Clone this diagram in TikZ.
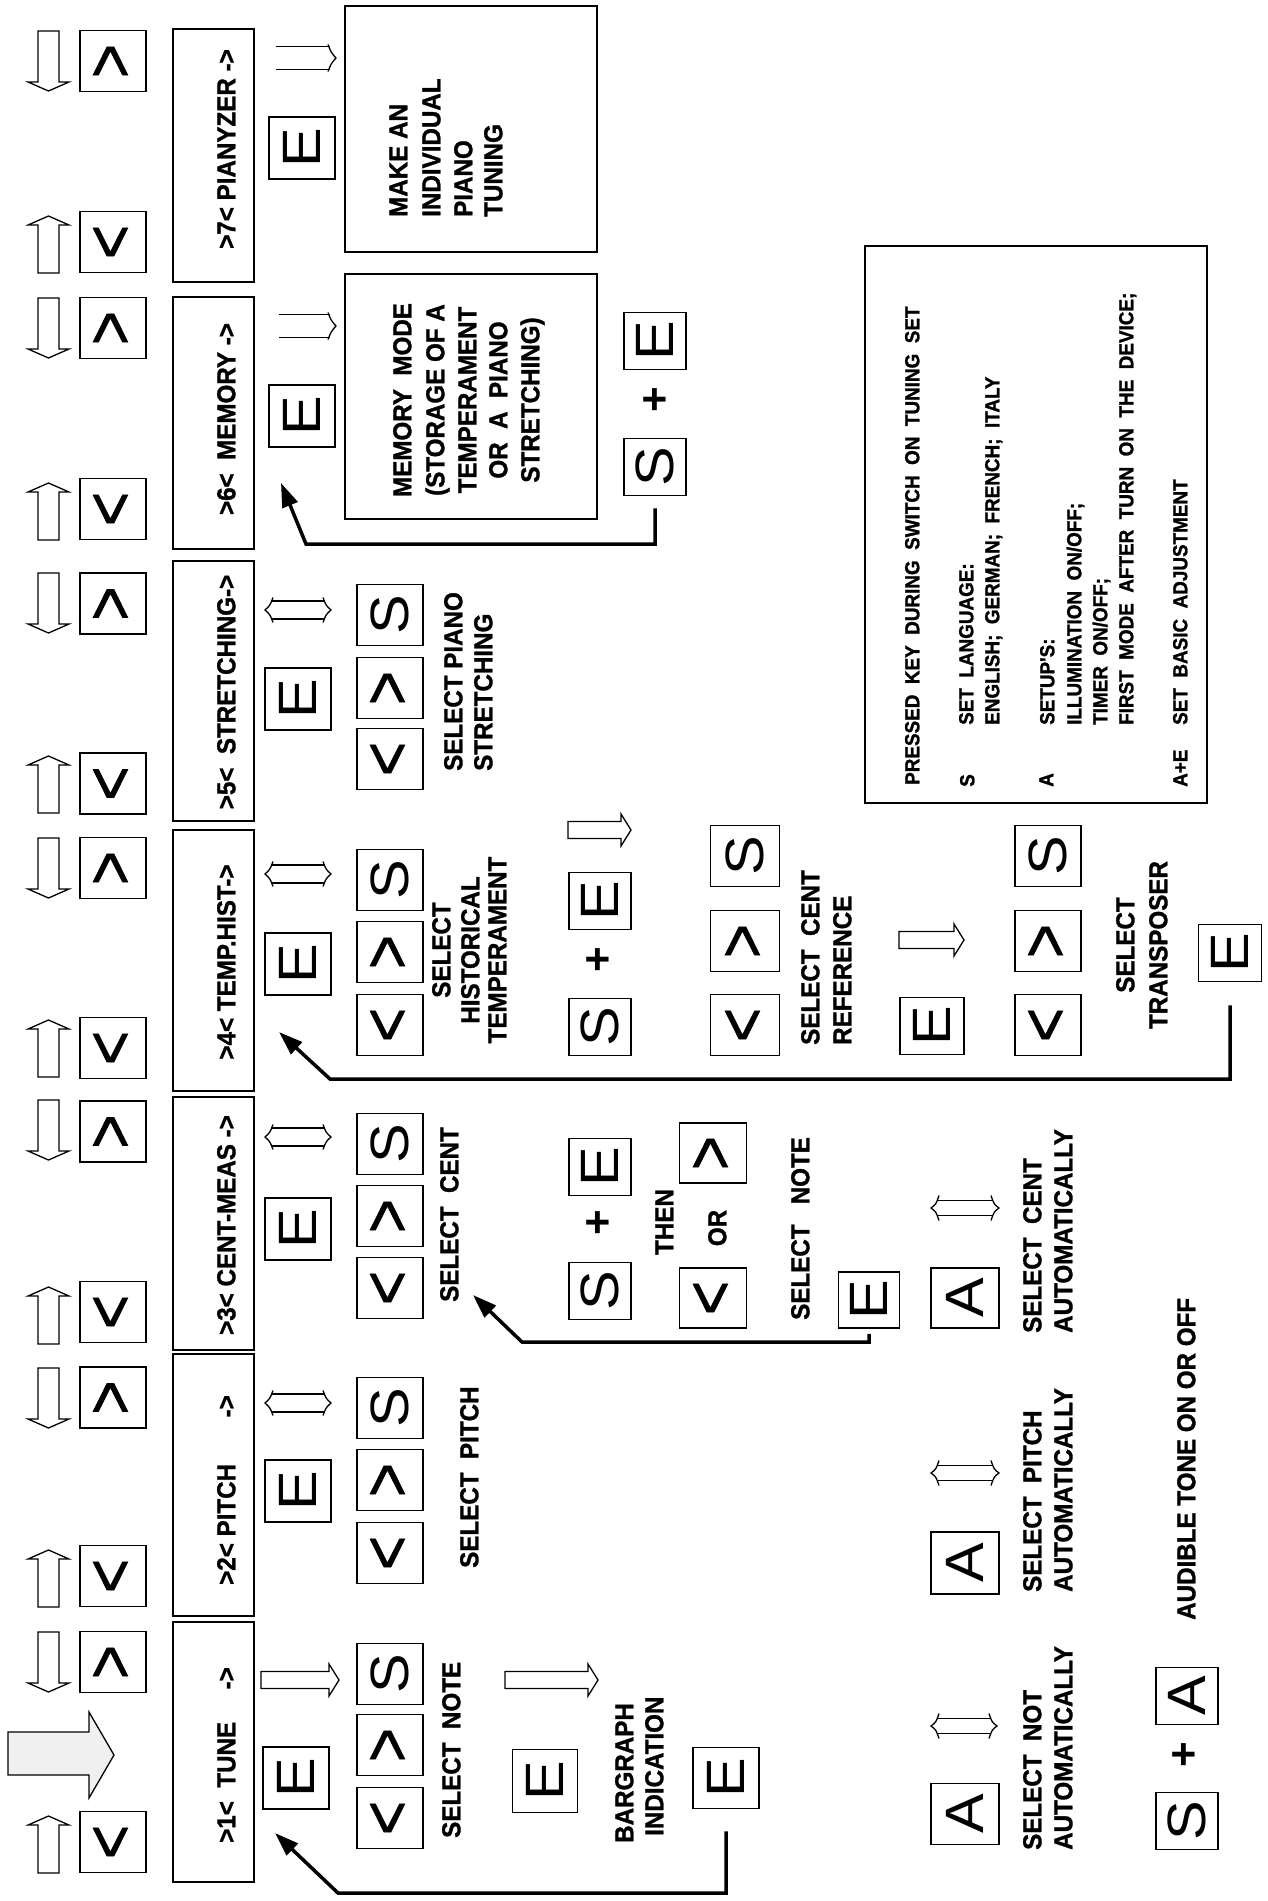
\documentclass[tikz,border=0pt]{standalone}
\usepackage{fontspec}
\usepackage{graphicx}
\setmainfont{Liberation Sans}
\newfontfamily\lblfam[FakeStretch=0.93,FakeBold=1.2]{Liberation Sans}
\newfontfamily\keyfam[FakeStretch=1.1]{Liberation Sans}
\newfontfamily\chevfam[FakeStretch=0.85,FakeBold=1.2]{Liberation Sans}
\usetikzlibrary{arrows.meta,calc}
\newcommand{\kg}[1]{\rotatebox{90}{#1}}
\newcommand{\kl}[1]{\rotatebox{90}{\chevfam\fontsize{68}{68}\selectfont\raisebox{-2pt}{#1}}}
\newcommand{\hdn}[1]{\draw[hollow] (38,#1) -- (59,#1) -- (59,#1+51) -- (69,#1+51) -- (48.5,#1+60) -- (28,#1+51) -- (38,#1+51) -- cycle;}
\newcommand{\hup}[1]{\draw[hollow] (38,#1+57) -- (59,#1+57) -- (59,#1+9) -- (69,#1+9) -- (48.5,#1) -- (28,#1+9) -- (38,#1+9) -- cycle;}
\newcommand{\blkR}[3]{\draw[hollow] (#1,#3-8.5) -- (#2-10,#3-8.5) -- (#2-10,#3-16) -- (#2,#3) -- (#2-10,#3+16) -- (#2-10,#3+8.5) -- (#1,#3+8.5) -- cycle;}
\newcommand{\dblLR}[5]{%
 \draw[dbl] (#1+6,#3-#4) -- (#2-6,#3-#4) (#1+6,#3+#4) -- (#2-6,#3+#4);
 \draw[dbl] (#2-8,#3-#5) .. controls (#2-5,#3-#4*0.5) .. (#2,#3) .. controls (#2-5,#3+#4*0.5) .. (#2-8,#3+#5);
 \draw[dbl] (#1+8,#3-#5) .. controls (#1+5,#3-#4*0.5) .. (#1,#3) .. controls (#1+5,#3+#4*0.5) .. (#1+8,#3+#5);}
\newcommand{\dblR}[5]{%
 \draw[dbl] (#1,#3-#4) -- (#2-6,#3-#4) (#1,#3+#4) -- (#2-6,#3+#4);
 \draw[dbl] (#2-8,#3-#5) .. controls (#2-5,#3-#4*0.5) .. (#2,#3) .. controls (#2-5,#3+#4*0.5) .. (#2-8,#3+#5);}
\tikzset{
 keybox/.style={draw, line width=1.8pt, minimum width=66pt, minimum height=61pt, inner sep=0pt, font=\keyfam\fontsize{54}{54}\selectfont},
 smallkey/.style={keybox, minimum width=62pt, minimum height=57pt},
 plus/.style={inner sep=0pt, font=\bfseries\fontsize{44}{44}\selectfont},
 modebox/.style={draw, line width=1.8pt, minimum width=81pt, inner sep=0pt},
 bigbox/.style={draw, line width=1.8pt, inner sep=0pt},
 lbl/.style={rotate=90, inner sep=0pt, font=\lblfam\bfseries\fontsize{26}{28}\selectfont, text height=18.6pt, text depth=0pt},
 lgd/.style={rotate=90, inner sep=0pt, font=\lblfam\bfseries\fontsize{20.3}{22}\selectfont, text height=14.5pt, text depth=0pt},
 hollow/.style={draw, line width=1.3pt, fill=white, line join=miter},
 dbl/.style={line width=1.3pt},
 conn/.style={line width=3.5pt, -{Triangle[length=24pt,width=16pt]}},
}
\begin{document}
\begin{tikzpicture}[x=1pt,y=-1pt]
\useasboundingbox (0,0) rectangle (1268,1901);
\fill[white] (0,0) rectangle (1268,1901);

% ---- left column: hollow arrows and up/down keys
\foreach \t in {31,298,573,838,1100,1368,1632}{\hdn{\t}}
\foreach \t in {216,483,756,1020,1287,1550,1816}{\hup{\t}}
\foreach \c/\n in {61/1,328/2,603.5/3,868/4,1131.5/5,1397.5/6,1662/7}{\node[keybox] (kup\n) at (113,\c) {\kl{>}};}
\foreach \c/\n in {242/1,509/2,783.5/3,1048/4,1312/5,1576/6,1842/7}{\node[keybox] (kdn\n) at (113,\c) {\kl{<}};}

% big grey arrow
\draw[line width=1.3pt, fill=gray!12] (8,1732) -- (89,1732) -- (89,1712) -- (114,1755) -- (89,1798) -- (89,1775) -- (8,1775) -- cycle;

% ---- mode boxes
\node[modebox, minimum height=253pt] (m7) at (213.5,155.5) {};
\node[modebox, minimum height=252pt] (m6) at (213.5,423) {};
\node[modebox, minimum height=260pt] (m5) at (213.5,691) {};
\node[modebox, minimum height=261pt] (m4) at (213.5,960.5) {};
\node[modebox, minimum height=253pt] (m3) at (213.5,1223.5) {};
\node[modebox, minimum height=262pt] (m2) at (213.5,1485) {};
\node[modebox, minimum height=260pt] (m1) at (213.5,1752) {};
\node[lbl] (m7t) at (226,149) {>7< PIANYZER ->};
\node[lbl] (m6t) at (226,419) {>6<\ \ MEMORY ->};
\node[lbl] (m5t) at (226,692) {>5<\ \ STRETCHING->};
\node[lbl] (m4t) at (226,962) {>4< TEMP.HIST->};
\node[lbl] (m3t) at (226,1225) {>3< CENT-MEAS ->};
\node[lbl, anchor=west] (m2t) at (226,1585) {>2< PITCH};
\node[lbl, anchor=east] (m2a) at (226,1395) {->};
\node[lbl, anchor=west] (m1t) at (226,1843) {>1<\ \ TUNE};
\node[lbl, anchor=east] (m1a) at (226,1667) {->};

% ---- arrows next to mode boxes
\dblR{276}{336}{58}{11.5}{13.5}
\dblR{279}{336}{326}{11.5}{13.5}
\dblLR{265}{331}{610}{9}{12.5}
\dblLR{265}{331}{874}{9}{12.5}
\dblLR{265}{331}{1137}{9}{12.5}
\dblLR{265}{331}{1403}{9}{12.5}
\blkR{261}{339}{1680}

% ---- E keys next to the modes
\node[keybox, minimum height=62pt] (e7) at (302,148) {\kg{E}};
\node[keybox, minimum height=62pt] (e6) at (302,416) {\kg{E}};
\node[keybox, minimum height=62pt] (e5) at (298,699) {\kg{E}};
\node[keybox, minimum height=62pt] (e4) at (298,964) {\kg{E}};
\node[keybox, minimum height=62pt] (e3) at (298,1229) {\kg{E}};
\node[keybox, minimum height=62pt] (e2) at (298,1491) {\kg{E}};
\node[keybox, minimum height=62pt] (e1) at (296,1778) {\kg{E}};

% ---- < > S columns
\node[keybox] (s5) at (390,615) {\kg{S}};
\node[keybox] (r5) at (390,688) {\kl{>}};
\node[keybox] (l5) at (390,759) {\kl{<}};
\node[keybox] (s4) at (390,880) {\kg{S}};
\node[keybox] (r4) at (390,952) {\kl{>}};
\node[keybox] (l4) at (390,1025) {\kl{<}};
\node[keybox] (s3) at (390,1144) {\kg{S}};
\node[keybox] (r3) at (390,1216) {\kl{>}};
\node[keybox] (l3) at (390,1288) {\kl{<}};
\node[keybox] (s2) at (390,1408) {\kg{S}};
\node[keybox] (r2) at (390,1480) {\kl{>}};
\node[keybox] (l2) at (390,1553) {\kl{<}};
\node[keybox] (s1) at (390,1674) {\kg{S}};
\node[keybox] (r1) at (390,1745) {\kl{>}};
\node[keybox] (l1) at (390,1818) {\kl{<}};

% ---- big text boxes
\node[bigbox, minimum width=252pt, minimum height=246pt] (bx7) at (471,129) {};
\node[bigbox, minimum width=252pt, minimum height=245pt] (bx6) at (471,396.5) {};
\node[lbl, anchor=west] (mk1) at (398,217) {MAKE AN};
\node[lbl, anchor=west] (mk2) at (431,217) {INDIVIDUAL};
\node[lbl, anchor=west] (mk3) at (463,217) {PIANO};
\node[lbl, anchor=west] (mk4) at (493,217) {TUNING};
\node[lbl] (mm1) at (402,400) {MEMORY\ \ MODE};
\node[lbl] (mm2) at (435,400) {(STORAGE OF A};
\node[lbl] (mm3) at (467,400) {TEMPERAMENT};
\node[lbl] (mm4) at (498,400) {OR\ \ A\ \ PIANO};
\node[lbl] (mm5) at (530,400) {STRETCHING)};

% ---- labels under key rows
\node[lbl, anchor=west] (t5a) at (453,771) {SELECT PIANO};
\node[lbl, anchor=west] (t5b) at (483,771) {STRETCHING};
\node[lbl] (t4a) at (441,950) {SELECT};
\node[lbl] (t4b) at (470,950) {HISTORICAL};
\node[lbl] (t4c) at (497,950) {TEMPERAMENT};
\node[lbl, anchor=west] (t3) at (449,1302) {SELECT\ \ CENT};
\node[lbl, anchor=west] (t2) at (469,1568) {SELECT\ \ PITCH};
\node[lbl, anchor=west] (t1) at (451,1838) {SELECT\ \ NOTE};

% ---- memory S + E
\node[smallkey] (me) at (655,341) {\kg{E}};
\node[plus] (mp) at (657,400) {\kg{+}};
\node[smallkey] (ms) at (655,467) {\kg{S}};

% ---- temp.hist S + E
\blkR{568}{631}{830}
\node[smallkey] (te) at (600,901) {\kg{E}};
\node[plus] (tp) at (600,960) {\kg{+}};
\node[smallkey] (ts) at (600,1027) {\kg{S}};

% ---- cent S + E then < or >
\node[smallkey] (ce) at (600,1167) {\kg{E}};
\node[plus] (cp) at (600,1223) {\kg{+}};
\node[smallkey] (cs) at (600,1291) {\kg{S}};
\node[lbl] (then) at (664,1222) {THEN};
\node[lbl] (or) at (717,1228) {OR};
\node[keybox, minimum width=67pt, minimum height=60pt] (cr) at (713,1153) {\kl{>}};
\node[keybox, minimum width=67pt, minimum height=60pt] (cl) at (713,1298) {\kl{<}};
\node[lbl, anchor=west] (cn) at (800,1320) {SELECT\ \ \ NOTE};
\node[smallkey, minimum width=61pt, minimum height=56pt] (ce2) at (869,1300) {\kg{E}};

% ---- cent reference
\node[keybox, minimum width=69pt] (rs) at (745,856) {\kg{S}};
\node[keybox, minimum width=69pt] (rr) at (745,941) {\kl{>}};
\node[keybox, minimum width=69pt] (rl) at (745,1025) {\kl{<}};
\node[lbl, anchor=west] (rt1) at (810,1045) {SELECT\ \ CENT};
\node[lbl, anchor=west] (rt2) at (842,1045) {REFERENCE};
\blkR{899}{964}{940}
\node[smallkey, minimum width=64pt] (re) at (932,1026) {\kg{E}};

% ---- transposer
\node[keybox] (xs) at (1048,856) {\kg{S}};
\node[keybox] (xr) at (1048,941) {\kl{>}};
\node[keybox] (xl) at (1048,1025) {\kl{<}};
\node[lbl] (xt1) at (1125,945) {SELECT};
\node[lbl] (xt2) at (1158,945) {TRANSPOSER};
\node[smallkey, minimum width=63pt] (xe) at (1230,953) {\kg{E}};

% ---- bargraph
\blkR{505}{598}{1680}
\node[keybox, minimum width=65pt, minimum height=63pt] (eb1) at (545,1781) {\kg{E}};
\node[lbl, anchor=west] (bg1) at (624,1843) {BARGRAPH};
\node[lbl, anchor=west] (bg2) at (654,1836) {INDICATION};
\node[keybox] (eb2) at (726,1778) {\kg{E}};

% ---- A keys
\dblLR{931}{999}{1208}{7.5}{12.5}
\dblLR{931}{999}{1473}{7.5}{12.5}
\dblLR{931}{997}{1726}{7.5}{12.5}
\node[keybox, minimum width=68pt, minimum height=60pt] (a3) at (965,1298) {\kg{A}};
\node[keybox, minimum width=68pt, minimum height=62pt] (a2) at (965,1563) {\kg{A}};
\node[keybox, minimum width=68pt, minimum height=61pt] (a1) at (965,1814) {\kg{A}};
\node[lbl, anchor=west] (at3a) at (1032,1333) {SELECT\ \ CENT};
\node[lbl, anchor=west] (at3b) at (1063,1333) {AUTOMATICALLY};
\node[lbl, anchor=west] (at2a) at (1032,1592) {SELECT\ \ PITCH};
\node[lbl, anchor=west] (at2b) at (1063,1592) {AUTOMATICALLY};
\node[lbl, anchor=west] (at1a) at (1032,1850) {SELECT\ \ NOT};
\node[lbl, anchor=west] (at1b) at (1063,1850) {AUTOMATICALLY};

% ---- S + A
\node[smallkey] (sas) at (1187,1821) {\kg{S}};
\node[plus] (sap) at (1186,1755) {\kg{+}};
\node[smallkey] (saa) at (1187,1696) {\kg{A}};
\node[lbl, anchor=west] (aud) at (1186,1620) {AUDIBLE TONE ON OR OFF};

% ---- legend
\node[bigbox, minimum width=342pt, minimum height=557pt] (lg) at (1036,524.5) {};
\node[lgd, anchor=west] (lg1) at (912,785) {PRESSED\ \ KEY\ \ DURING\ \ SWITCH\ \ ON\ \ TUNING\ \ SET};
\node[lgd, anchor=west] (lg2) at (967,787) {S};
\node[lgd, anchor=west] (lg3) at (966,725) {SET\ \ LANGUAGE:};
\node[lgd, anchor=west] (lg4) at (992,725) {ENGLISH;\ \ GERMAN;\ \ FRENCH;\ \ ITALY};
\node[lgd, anchor=west] (lg5) at (1046,787) {A};
\node[lgd, anchor=west] (lg6) at (1047,725) {SETUP'S:};
\node[lgd, anchor=west] (lg7) at (1074,725) {ILLUMINATION\ \ ON/OFF;};
\node[lgd, anchor=west] (lg8) at (1100,725) {TIMER\ \ ON/OFF;};
\node[lgd, anchor=west] (lg9) at (1126,725) {FIRST\ \ MODE\ \ AFTER\ \ TURN\ \ ON\ \ THE\ \ DEVICE;};
\node[lgd, anchor=west] (lg10) at (1180,787) {A+E};
\node[lgd, anchor=west] (lg11) at (1180,725) {SET\ \ BASIC\ \ ADJUSTMENT};

% ---- return connectors
\coordinate (k1) at (338,1893); \coordinate (p1) at (275,1833);
\draw[conn] ($(eb2.south)+(0,22)$) |- (k1) -- (p1);
\coordinate (k2) at (522,1342); \coordinate (p2) at (473,1295);
\draw[conn] ($(ce2.south)+(0,5)$) |- (k2) -- (p2);
\coordinate (k3) at (330,1079); \coordinate (p3) at (279,1032);
\draw[conn] ($(xe.south)+(0,23)$) |- (k3) -- (p3);
\coordinate (k4) at (306,544); \coordinate (p4) at (281,483);
\draw[conn] ($(ms.south)+(0,12)$) |- (k4) -- (p4);
\end{tikzpicture}
\end{document}
